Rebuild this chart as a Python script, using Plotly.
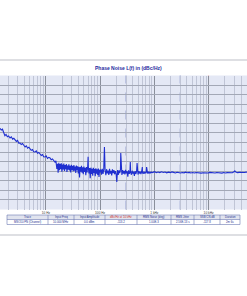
import plotly.graph_objects as go

# ---------------- data ----------------
f_slope = [1.42, 1.5, 1.58, 1.66, 1.75, 1.84, 1.94, 2.05, 2.18, 2.3,
           2.43, 2.56, 2.7, 2.85, 3.0, 3.15, 3.32, 3.5, 3.7, 3.9,
           4.13, 4.35, 4.6, 4.85, 5.08, 5.35, 5.65, 5.95, 6.3, 6.65,
           7.0, 7.4, 7.79, 8.2, 8.65, 9.1, 9.6, 10.1, 10.7, 11.3,
           11.9, 12.5, 13.2, 13.9, 14.7, 15.3]
pn_slope = [-65.2, -67.0, -66.1, -70.3, -72.9, -71.5, -74.0, -73.2, -75.3, -74.1,
            -76.5, -75.6, -77.4, -78.9, -77.8, -80.6, -80.5, -82.1, -81.0, -83.6,
            -84.7, -83.5, -85.9, -84.9, -86.8, -88.2, -87.3, -89.6, -89.9, -88.8,
            -91.3, -90.4, -92.0, -93.5, -92.6, -94.8, -95.1, -94.0, -96.6, -95.5,
            -96.2, -98.1, -97.2, -99.5, -100.4, -99.2]

f_low = [15.5, 15.9, 16.4, 16.8, 17.3, 17.7, 18.2, 18.7, 19.2, 19.7,
         20.3, 20.8, 21.4, 22.0, 22.6, 23.2, 23.8, 24.4, 25.1, 25.8,
         26.5, 27.2, 27.9, 28.7, 29.5, 30.3, 31.1, 31.9, 32.8, 33.7,
         34.6, 35.5, 36.5, 37.5, 38.5, 39.5, 40.6, 41.7, 42.8, 44.0,
         45.2, 46.4, 47.6, 48.9, 50.2, 51.6, 53.0, 54.4, 55.9, 57.4,
         59.0, 60.0, 60.6, 62.2, 63.9, 65.6, 67.4, 69.2, 71.1, 73.0,
         75.0, 77.0, 79.1, 81.2, 83.4, 85.7, 88.0, 90.4, 92.8, 95.3,
         97.9, 100.0]
pn_low = [-100.8, -107.5, -102.3, -111.5, -101.2, -108.9, -102.6, -107.9, -101.6, -110.4,
          -103.1, -108.1, -102.0, -109.8, -103.6, -107.8, -102.5, -110.7, -104.0, -108.4,
          -102.8, -109.1, -104.3, -111.2, -103.4, -108.6, -104.5, -110.1, -103.7, -109.5,
          -105.1, -111.8, -104.2, -109.0, -104.8, -112.3, -105.3, -116.5, -105.7, -110.5,
          -104.4, -111.6, -105.9, -113.0, -105.2, -110.8, -106.5, -114.1, -105.6, -111.3,
          -104.8, -95.0, -106.0, -112.4, -106.8, -117.2, -106.3, -112.9, -107.4, -114.6,
          -106.4, -111.7, -107.8, -115.2, -107.0, -112.5, -108.1, -113.8, -107.3, -115.9,
          -108.4, -111.2]

f_mid = [103, 106, 109.5, 113, 116.5, 120, 123.5, 127.5, 131.5, 135.5,
         140, 144.5, 149, 153.5, 158.5, 163.5, 168.5, 174, 179.5, 185,
         191, 197, 203, 209.5, 216, 223, 230, 237, 240, 244.5,
         252, 260, 268.5, 277, 286, 295, 304, 314, 324, 334,
         345, 355, 360, 366, 378, 390, 402, 415, 428, 442,
         456, 470, 480, 485, 500, 516, 532, 549, 566, 584,
         600, 603, 622, 641, 662, 683, 704, 720, 727, 750,
         774, 798, 824, 850, 877, 905]
pn_mid = [-108.2, -113.5, -107.6, -112.9, -108.4, -84.7, -109.0, -114.1, -107.9, -112.3,
          -109.3, -113.8, -107.4, -112.6, -109.6, -114.5, -108.1, -111.9, -108.8, -113.2,
          -109.9, -112.7, -121.3, -108.7, -113.9, -109.2, -112.1, -108.5, -91.0, -110.4,
          -114.0, -108.9, -112.5, -109.7, -113.3, -108.6, -112.2, -110.1, -115.6, -109.0,
          -112.8, -110.3, -100.4, -111.2, -113.7, -109.5, -112.4, -110.6, -114.8, -109.8,
          -112.9, -110.2, -101.4, -111.6, -113.5, -109.9, -112.3, -110.5, -113.0, -110.0,
          -105.6, -111.4, -112.7, -110.4, -112.5, -110.7, -112.1, -105.6, -111.0, -112.3,
          -110.6, -112.0, -110.9, -111.7, -110.8, -111.5]

f_high = [940, 1010, 1090, 1170, 1260, 1360, 1460, 1570, 1690, 1820,
          1960, 2110, 2270, 2440, 2630, 2830, 3040, 3270, 3520, 3790,
          4080, 4390, 4720, 5080, 5470, 5880, 6330, 6810, 7330, 7890,
          8490, 9130, 9830, 10580, 11380, 12250, 13180, 14180, 15260, 16420,
          17670, 19010, 20460, 22010, 23690, 25490, 27430, 29510, 30500, 31760,
          34170, 36770, 39570, 42580, 45810, 49300, 53000]
pn_high = [-111.2, -110.5, -111.6, -110.9, -111.4, -110.6, -111.3, -110.8, -111.7, -111.0,
           -111.5, -110.7, -111.2, -111.8, -111.1, -111.6, -111.9, -111.3, -111.7, -111.0,
           -111.6, -111.2, -111.8, -111.4, -111.9, -111.3, -111.7, -111.5, -112.0, -111.6,
           -111.9, -111.4, -111.8, -111.2, -111.7, -111.5, -111.9, -111.3, -111.8, -111.6,
           -112.0, -111.4, -111.9, -111.5, -111.7, -111.3, -111.6, -110.6, -109.6, -110.9,
           -111.5, -111.2, -111.4, -111.1, -111.3, -111.0, -111.2]

decade_ticks = [10, 100, 1000, 10000]
decade_labels = ["10 Hz", "100 Hz", "1 kHz", "10 kHz"]
marker_freqs = [300, 3000]
marker_labels = ["300 Hz", "3 kHz"]
offset_freq = [10000]

table_headers = ["Trace", "Input Freq", "Input Amplitude", "dBc/Hz at 10 kHz",
                 "RMS Noise (deg)", "RMS Jitter", "SSB CN dB", "Duration"]
table_row = ["MSO10 PN (Channel)", "10.000 MHz", "0.0 dBm", "-113.2",
             "1.00E-3", "2.56E-13 s", "-117.8", "2m 6s"]
table_header_colors = ["#24308f", "#24308f", "#24308f", "#d03030",
                       "#24308f", "#24308f", "#24308f", "#24308f"]

# ---------------- build ----------------
freq = f_slope + f_low + f_mid + f_high
pn = pn_slope + pn_low + pn_mid + pn_high
assert len(freq) == len(pn)

W, H = 247, 296
def py(p):
    return 1 - p / H

minor_vals = [m * d for d in [1, 10, 100, 1000, 10000] for m in range(2, 10)]

fig = go.Figure()
fig.add_trace(go.Scatter(x=freq, y=pn, mode="lines",
                         line=dict(color="#1f2fd0", width=1.1),
                         hoverinfo="skip", showlegend=False))

shapes = []
for fm in marker_freqs:
    shapes.append(dict(type="line", xref="x", yref="y domain", x0=fm, x1=fm, y0=0, y1=1,
                       line=dict(color="#7f8cc4", width=0.8, dash="dash"), layer="below"))
for fo in offset_freq:
    shapes.append(dict(type="line", xref="x", yref="y domain", x0=fo, x1=fo, y0=0, y1=1,
                       line=dict(color="#e39a9a", width=0.9, dash="dash"), layer="below"))
shapes.append(dict(type="line", xref="paper", yref="paper", x0=0, x1=1, y0=py(60), y1=py(60),
                   line=dict(color="#d3d5da", width=1.5)))
shapes.append(dict(type="line", xref="paper", yref="paper", x0=0, x1=1, y0=py(235), y1=py(235),
                   line=dict(color="#d3d5da", width=1.5)))

annotations = [dict(text="<b>Phase Noise L(f) in (dBc/Hz)</b>", xref="paper", yref="paper",
                    x=128 / W, y=py(68), xanchor="center", yanchor="middle", showarrow=False,
                    font=dict(size=5, color="#1e2a9e", family="Liberation Sans"))]
for fm, lab, anch in zip(marker_freqs, marker_labels, ["right", "left"]):
    annotations.append(dict(text=lab, xref="x", yref="paper", x=fm, y=py(205.5),
                            xanchor=anch, yanchor="middle",
                            xshift=-1 if anch == "right" else 1,
                            showarrow=False,
                            font=dict(size=3.3, color="#2a3aa8", family="Liberation Sans")))

# ----- summary table (drawn with rectangles and text) -----
col_edges = [7, 48, 74, 105, 137, 171, 194, 220, 240]
t_top, t_mid, t_bot = 215.0, 219.5, 224.5
border = "#6d7ab4"
shapes.append(dict(type="rect", xref="paper", yref="paper",
                   x0=col_edges[0] / W, x1=col_edges[-1] / W, y0=py(t_mid), y1=py(t_top),
                   fillcolor="#e1e4ee", line=dict(width=0)))
shapes.append(dict(type="rect", xref="paper", yref="paper",
                   x0=col_edges[0] / W, x1=col_edges[-1] / W, y0=py(t_bot), y1=py(t_top),
                   fillcolor="rgba(0,0,0,0)", line=dict(color=border, width=0.6)))
shapes.append(dict(type="line", xref="paper", yref="paper",
                   x0=col_edges[0] / W, x1=col_edges[-1] / W, y0=py(t_mid), y1=py(t_mid),
                   line=dict(color=border, width=0.6)))
for ce in col_edges[1:-1]:
    shapes.append(dict(type="line", xref="paper", yref="paper",
                       x0=ce / W, x1=ce / W, y0=py(t_bot), y1=py(t_top),
                       line=dict(color=border, width=0.6)))
for i, (hdr, val, hc) in enumerate(zip(table_headers, table_row, table_header_colors)):
    xc = (col_edges[i] + col_edges[i + 1]) / 2 / W
    annotations.append(dict(text=hdr, xref="paper", yref="paper", x=xc,
                            y=py((t_top + t_mid) / 2), xanchor="center", yanchor="middle",
                            showarrow=False,
                            font=dict(size=2.8, color=hc, family="Liberation Sans")))
    annotations.append(dict(text=val, xref="paper", yref="paper", x=xc,
                            y=py((t_mid + t_bot) / 2), xanchor="center", yanchor="middle",
                            showarrow=False,
                            font=dict(size=2.8, color="#24308f", family="Liberation Sans")))

fig.update_layout(
    width=W, height=H, margin=dict(l=0, r=0, t=0, b=0),
    paper_bgcolor="white", plot_bgcolor="#e4e8f5",
    showlegend=False, shapes=shapes, annotations=annotations,
    xaxis=dict(type="log", range=[0.153, 4.709], domain=[0, 1],
               tickmode="array", tickvals=decade_ticks, ticktext=decade_labels,
               showgrid=True, gridcolor="#8a8f9b", gridwidth=1,
               minor=dict(tickmode="array", tickvals=minor_vals, showgrid=True,
                          gridcolor="#c0c5d6", gridwidth=0.8, ticks=""),
               ticks="", zeroline=False, showline=False,
               tickfont=dict(size=3.2, color="#333333", family="Liberation Sans")),
    yaxis=dict(range=[-150, -10], dtick=10, tick0=-150, domain=[py(209.5), py(75.5)],
               showgrid=True, gridcolor="#a3a8b6", gridwidth=0.8,
               showticklabels=False, ticks="", zeroline=False, showline=False),
)

fig.write_html("out.html")
